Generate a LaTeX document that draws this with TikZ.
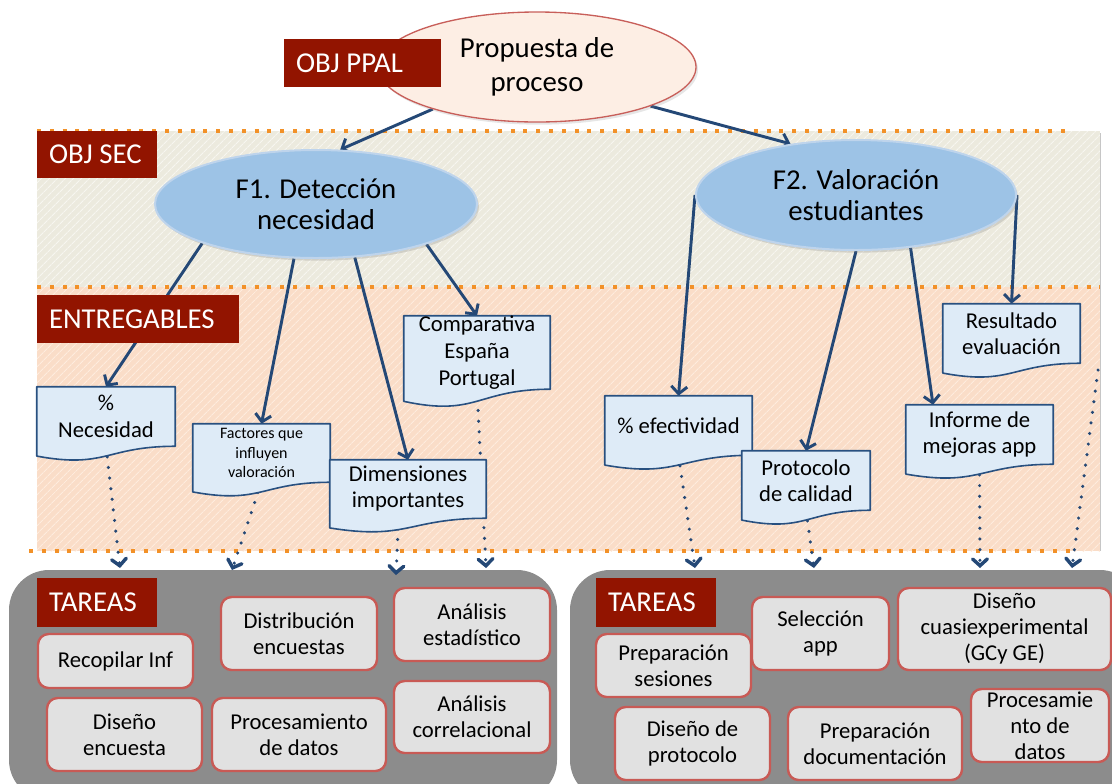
\documentclass[tikz,border=0pt]{standalone}
\usepackage{fontspec}
\setmainfont{Carlito}
\usetikzlibrary{arrows.meta,calc,shapes.geometric,patterns.meta,shadows}
\definecolor{labred}{RGB}{146,20,0}
\definecolor{secfill}{RGB}{236,234,222}
\definecolor{secstripe}{RGB}{247,246,240}
\definecolor{entfill}{RGB}{250,221,200}
\definecolor{entstripe}{RGB}{254,236,222}
\definecolor{dotorange}{RGB}{242,145,40}
\definecolor{arrblue}{RGB}{36,72,118}
\definecolor{ellfill}{RGB}{157,195,230}
\definecolor{ellline}{RGB}{190,212,236}
\definecolor{mainfill}{RGB}{253,238,228}
\definecolor{mainred}{RGB}{200,95,90}
\definecolor{docfill}{RGB}{222,235,247}
\definecolor{docline}{RGB}{40,80,128}
\definecolor{taskfill}{RGB}{225,225,225}
\definecolor{taskred}{RGB}{200,90,85}
\definecolor{contgray}{RGB}{140,140,140}
\pgfdeclarelayer{back}
\pgfdeclarelayer{lines}
\pgfdeclarelayer{docs}
\pgfsetlayers{back,lines,docs,main}
\newcommand\mkdoc[7]{\node[docnode,font=#6,minimum width={(#4-#2)*0.75pt},minimum height={(#5-#3)*0.75pt}] (#1) at ({(#2+#4)/2},{(#3+#5)/2}) {#7};}
\newcommand\mkdocshape[1]{\draw[docshape] let \p1=(#1.north west), \p2=(#1.south east), \n1={\y1-\y2} in (\p1) -- (\x2,\y1) -- (\p2) .. controls ({(\x1+\x2)/2},\y2) and ({(\x1+\x2)/2},{\y1-1.381*\n1}) .. (\x1,{\y1-1.1646*\n1}) -- cycle;}
\newcommand\mktask[6]{\node[taskbox,minimum width={(#4-#2)*0.75pt},minimum height={(#5-#3)*0.75pt}] (#1) at ({(#2+#4)/2},{(#3+#5)/2}) {#6};}
\newcommand\mklab[6]{\node[labbox,minimum width={(#4-#2)*0.75pt},minimum height={(#5-#3)*0.75pt}] (#1) at ({(#2+#4)/2},{(#3+#5)/2}) {\makebox[\dimexpr(#4pt-#2pt-24pt)*3/4\relax][l]{#6}};}
\tikzset{
  arr/.style={draw=arrblue,line width=2.2pt,-{Straight Barb[length=5.5pt,width=12pt]}},
  dotarr/.style={draw=arrblue,line width=2.6pt,line cap=round,dash pattern=on 0pt off 8pt,-{Straight Barb[length=5pt,width=11pt,line cap=round]}},
  orangedots/.style={draw=dotorange,line width=2.4pt,dash pattern=on 3pt off 6.6pt},
  docnode/.style={rectangle,inner sep=0pt,align=center},
  docshape/.style={fill=docfill,draw=docline,line width=1.2pt,line join=round},
  taskbox/.style={rectangle,rounded corners=8pt,fill=taskfill,draw=taskred,line width=1.8pt,inner sep=0pt,align=center,font=\fontsize{17}{19.5}\selectfont},
  labbox/.style={rectangle,fill=labred,text=white,inner sep=0pt,font=\fontsize{21.6}{26}\selectfont},
  fell/.style={ellipse,fill=ellfill,draw=ellline,line width=1.5pt,inner sep=0pt,align=center,font=\fontsize{21.6}{23.5}\selectfont,drop shadow={opacity=0.25,shadow xshift=1.5pt,shadow yshift=-2pt}},
  container/.style={rectangle,rounded corners=30pt,fill=contgray,inner sep=0pt}
}
\begin{document}
\begin{tikzpicture}[x=0.75pt,y=-0.75pt]
\useasboundingbox (0,0) rectangle (1112,783);
% ---- main nodes
\node[ellipse,fill=mainfill,draw=mainred,line width=1pt,minimum width=238.5pt,minimum height=82.5pt,inner sep=0pt,align=center,font=\fontsize{21.6}{25.5}\selectfont,drop shadow={opacity=0.2,shadow xshift=1.5pt,shadow yshift=-2pt}] (ppal) at (537,67) {Propuesta de\\proceso};
\node[fell,minimum width=241.5pt,minimum height=81pt] (f1) at (316,204) {F1. Detección\\necesidad};
\node[fell,minimum width=240pt,minimum height=82.5pt] (f2) at (856,195) {F2. Valoración\\estudiantes};
% ---- documents (text)
\mkdoc{nec}{37}{387}{175}{446}{\fontsize{17}{20}\selectfont}{\%\\Necesidad}
\mkdoc{fac}{193}{424}{330}{482}{\fontsize{12}{14.6}\selectfont}{Factores que\\influyen\\valoración}
\mkdoc{dim}{330}{460}{486}{518}{\fontsize{17}{19.5}\selectfont}{Dimensiones\\importantes}
\mkdoc{comp}{404}{323}{550}{382}{\fontsize{17}{20}\selectfont}{Comparativa\\España\\Portugal}
\mkdoc{efe}{605}{396}{752}{455}{\fontsize{17}{19.5}\selectfont}{\% efectividad}
\mkdoc{prot}{742}{451}{870}{510}{\fontsize{17}{19.5}\selectfont}{Protocolo\\de calidad}
\mkdoc{inf}{906}{405}{1053}{464}{\fontsize{17}{19.5}\selectfont}{Informe de\\mejoras app}
\mkdoc{res}{943}{304}{1080}{363}{\fontsize{17}{19.5}\selectfont}{Resultado\\evaluación}
% ---- labels
\mklab{lppal}{284}{39}{441}{87}{OBJ PPAL}
\mklab{lsec}{37}{131}{157}{178}{OBJ SEC}
\mklab{lent}{37}{295}{239}{343}{ENTREGABLES}
\mklab{ltarL}{37}{578}{157}{627}{TAREAS}
\mklab{ltarR}{596}{578}{716}{627}{TAREAS}
% ---- tasks
\mktask{t1}{38}{634}{193}{688}{Recopilar Inf}
\mktask{t2}{47}{698}{202}{771}{Diseño\\encuesta}
\mktask{t3}{221}{597}{377}{670}{Distribución\\encuestas}
\mktask{t4}{212}{698}{386}{771}{Procesamiento\\de datos}
\mktask{t5}{394}{588}{550}{661}{Análisis\\estadístico}
\mktask{t6}{394}{681}{550}{753}{Análisis\\correlacional}
\mktask{t7}{596}{634}{751}{697}{Preparación\\sesiones}
\mktask{t8}{752}{597}{889}{670}{Selección\\app}
\mktask{t9}{898}{588}{1111}{670}{Diseño\\cuasiexperimental\\(GCy GE)}
\mktask{t10}{615}{707}{770}{780}{Diseño de\\protocolo}
\mktask{t11}{788}{707}{962}{780}{Preparación\\documentación}
\mktask{t12}{971}{689}{1109}{762}{Procesamie\\nto de\\datos}
% ---- free ends
\coordinate (e1) at (120,568);
\coordinate (e2) at (232,570);
\coordinate (e3) at (396,575);
\coordinate (e4) at (486,568);
\coordinate (e5) at (695,568);
\coordinate (e6) at (814,568);
\coordinate (e7) at (980,568);
\coordinate (e8) at (1072,568);
\coordinate (s8) at (1098,370);
% ---- background
\begin{pgfonlayer}{back}
\fill[secfill] (37,131) rectangle (1100,287);
\fill[pattern={Lines[angle=45,distance=4pt,line width=0.8pt]},pattern color=secstripe] (37,131) rectangle (1100,287);
\fill[entfill] (37,287) rectangle (1100,551);
\fill[pattern={Lines[angle=45,distance=4pt,line width=0.8pt]},pattern color=entstripe] (37,287) rectangle (1100,551);
\draw[gray!45,line width=0.8pt] (1100.5,133) -- (1100.5,551);
\draw[orangedots] (37,131) -- (1073,131);
\draw[orangedots] (37,287) -- (1100,287);
\draw[orangedots] (29,551) -- (1075,551);
\node[container,minimum width=411pt,minimum height=172.5pt] (contL) at (283,685) {};
\node[container,minimum width=427.5pt,minimum height=172.5pt] (contR) at (855,685) {};
\end{pgfonlayer}
% ---- connectors
\begin{pgfonlayer}{lines}
\draw[arr] (ppal.202) -- (f1.66);
\draw[arr] (ppal.-19) -- (f2.142);
\draw[arr] (f1.199) -- (nec.north);
\draw[arr] (f1.248) -- (fac.north);
\draw[arr] (f1.-54) -- (dim.north);
\draw[arr] (f1.-20) -- (comp.north);
\draw[arr] (f2.west) -- (efe.north);
\draw[arr] (f2.south) -- (prot.north);
\draw[arr] (f2.-44) -- ($(inf.north west)!0.185!(inf.north east)$);
\draw[arr] (f2.east) -- (res.north);
\draw[dotarr] (nec.south) -- (e1);
\draw[dotarr] (fac.south) -- (e2);
\draw[dotarr] ($(dim.south west)!0.44!(dim.south east)$) -- (e3);
\draw[dotarr] (comp.south) -- (e4);
\draw[dotarr] (efe.south) -- (e5);
\draw[dotarr] (prot.south) -- (e6);
\draw[dotarr] (inf.south) -- (e7);
\draw[dotarr] (s8) -- (e8);
\end{pgfonlayer}
% ---- document shapes
\begin{pgfonlayer}{docs}
\mkdocshape{nec}
\mkdocshape{fac}
\mkdocshape{dim}
\mkdocshape{comp}
\mkdocshape{efe}
\mkdocshape{prot}
\mkdocshape{inf}
\mkdocshape{res}
\end{pgfonlayer}
\end{tikzpicture}
\end{document}
